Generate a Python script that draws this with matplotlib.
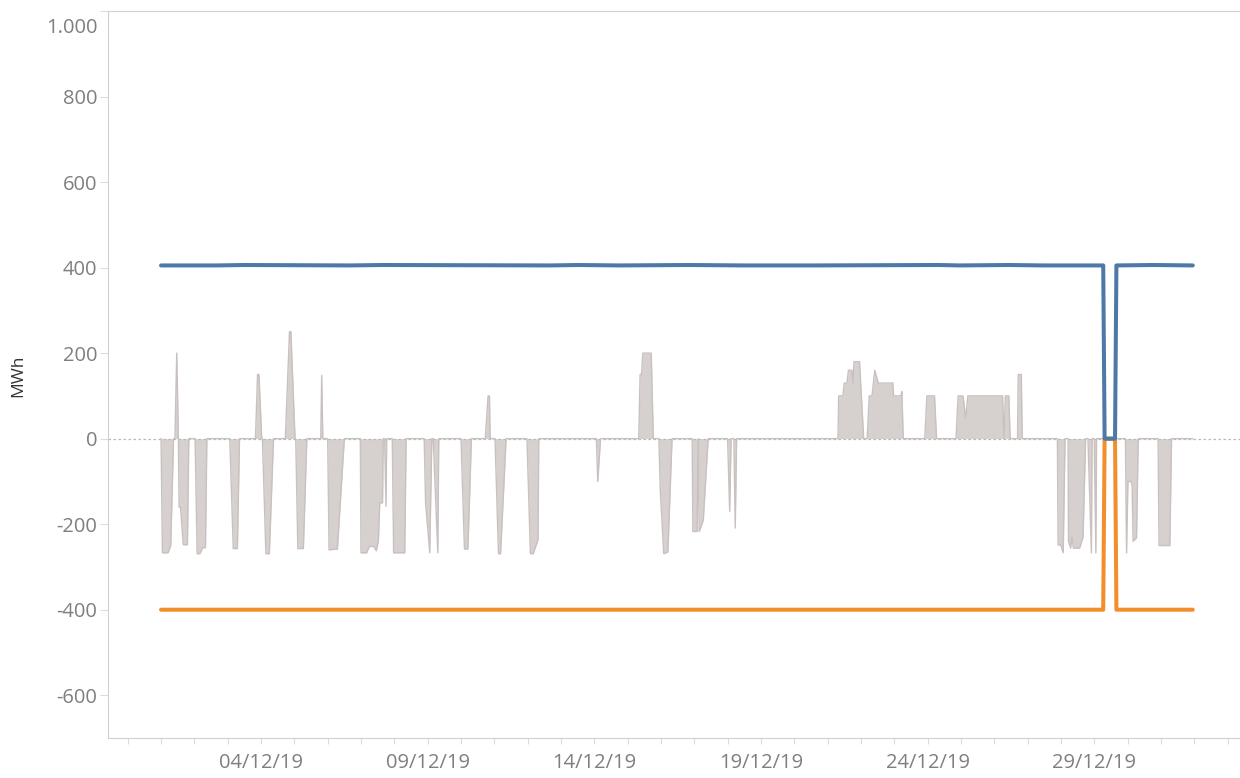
import numpy as np
import pandas as pd
import matplotlib
matplotlib.use('Agg')
import matplotlib.pyplot as plt
import matplotlib.dates as mdates
from matplotlib.ticker import FuncFormatter
from matplotlib.transforms import ScaledTranslation

# hours since 01/12/19 00:00 and net exchange (MWh), vertices of the grey area
net_hours = [0, 1, 5, 7, 9,
             10, 11.3, 12.5,
             13, 14, 16, 19, 20,
             24.5, 26, 28, 30, 32, 33,
             49.5, 52, 55, 56.5,
             68, 69.5, 70.5, 72.5,
             73, 75.5, 78, 81,
             89.5, 92.5, 93.5, 96.5,
             97, 98.5, 102.5, 105,
             115, 115.7, 116.5,
             120, 121, 127, 132,
             143.5, 144, 148, 150, 153, 155, 156.5, 157.5, 159.5, 160,
             161, 162, 162.5,
             166.5, 167.5, 175.5, 176.5,
             189.5, 190.5, 193.5, 195,
             196, 199.3, 200,
             216, 218.5, 221, 223.5,
             233.5, 235.5, 236.5, 237,
             240.5, 243, 244.5, 248.5,
             263.5, 266, 268, 271.5, 272,
             313.5, 314.5, 315.5, 316.5,
             344, 345, 346, 347, 353, 354.5,
             358.5, 359.5, 362, 365, 368,
             382.5, 383, 386, 386.8, 387.5, 389, 390.5, 394,
             408, 409.5, 410.5,
             412.5, 413.5, 414.5,
             487.5, 488, 491, 492, 494, 495, 497.5, 498.3, 499, 503, 506,
             508.5, 510, 512, 514, 516.5, 527, 527.5, 532.8, 533.5, 534.5,
             550, 551.5, 557, 558.5,
             572.5, 574, 577.5, 579.5, 581, 606, 607, 608, 610.5, 611.5,
             616.8, 617.3, 619.5, 620.2,
             645.5, 646, 648, 649.7, 651,
             653.2, 653.5, 655, 656, 657, 661.5, 664, 665.8,
             667.5, 670, 670.5,
             672, 673.2, 673.7,
             694.5, 695.3, 696.3, 698.5, 699.3, 700, 702.5, 703.7,
             718, 718.7, 726.5, 727.7,
             743]
net_mwh = [0, -267, -267, -250, 0,
           0, 200, 0,
           -160, -160, -248, -248, 0,
           0, -269, -269, -255, -255, 0,
           0, -257, -257, 0,
           0, 150, 150, 0,
           0, -269, -269, 0,
           0, 250, 250, 0,
           0, -257, -257, 0,
           0, 148, 0,
           0, -260, -258, 0,
           0, -267, -267, -252, -252, -262, -240, -150, -150, 0,
           0, -158, 0,
           0, -267, -267, 0,
           0, -150, -267, 0,
           0, -267, 0,
           0, -258, -258, 0,
           0, 100, 100, 0,
           0, -269, -269, 0,
           0, -269, -269, -236, 0,
           0, -100, -50, 0,
           0, 150, 150, 200, 200, 0,
           0, -120, -269, -265, 0,
           0, -217, -217, 0, -217, -205, -190, 0,
           0, -170, 0,
           0, -209, 0,
           0, 100, 100, 130, 130, 160, 160, 130, 180, 180, 0,
           0, 100, 100, 160, 130, 130, 100, 100, 110, 0,
           0, 100, 100, 0,
           0, 100, 100, 48, 100, 100, 0, 100, 100, 0,
           0, 150, 150, 0,
           0, -248, -250, -267, 0,
           0, -240, -256, -230, -256, -256, -230, 0,
           0, -267, 0,
           0, -267, 0,
           0, -267, -100, -100, -110, -240, -232, 0,
           0, -250, -250, 0,
           0]

# available capacity, export (blue) and import (orange)
export_hours = [0, 40, 60, 136, 160, 280, 300, 330, 380, 420, 470, 560, 575,
                610, 636, 678.5, 679.5, 687, 688, 715, 743]
export_mwh = [405, 405, 406, 405, 406, 405, 406, 405, 406, 405, 405, 406, 405,
              406, 405, 405, 0, 0, 405, 406, 405]
import_hours = [0, 678.5, 679.5, 687, 688, 743]
import_mwh = [-400, -400, 0, 0, -400, -400]

start = pd.Timestamp('2019-12-01 00:00')


def to_time(hours):
    return start + pd.to_timedelta(np.asarray(hours, dtype=float), unit='h')


label_days = ['2019-12-04', '2019-12-09', '2019-12-14', '2019-12-19', '2019-12-24', '2019-12-29']

plt.rcParams['font.family'] = ['Open Sans', 'DejaVu Sans']

fig = plt.figure(figsize=(12.4, 7.78), dpi=100)
ax = fig.add_axes([0.0871, 0.0514, 0.9129, 0.9345])

t = to_time(net_hours)
ax.fill_between(t, net_mwh, 0, color='#d6d0ce', lw=0, zorder=1)
ax.axhline(0, color='#b8b8b8', lw=0.9, ls=(0, (2, 2)), zorder=1.5)
ax.plot(t, net_mwh, color='#c9c1bf', lw=1.0, zorder=2)

ax.plot(to_time(import_hours), import_mwh, color='#f28e2b', lw=2.9,
        solid_capstyle='round', solid_joinstyle='round', zorder=3)
ax.plot(to_time(export_hours), export_mwh, color='#4e79a7', lw=2.9,
        solid_capstyle='round', solid_joinstyle='round', zorder=4)

ax.set_xlim(start - pd.Timedelta(hours=38.2), start + pd.Timedelta(hours=777))
ax.set_ylim(-700, 1000)

ax.set_yticks(np.arange(-600, 1001, 200))
ax.yaxis.set_major_formatter(FuncFormatter(lambda v, p: f"{int(v):,}".replace(',', '.')))
ax.set_xticks(pd.to_datetime(label_days))
ax.xaxis.set_major_formatter(mdates.DateFormatter('%d/%m/%y'))
ax.xaxis.set_minor_locator(mdates.DayLocator())

for side in ['left', 'top', 'bottom']:
    ax.spines[side].set_color('#d0d0d0')
    ax.spines[side].set_linewidth(0.8)
ax.spines['right'].set_visible(False)

ax.tick_params(axis='y', length=6, width=0.8, color='#dcdcdc', labelsize=14.5,
               labelcolor='#7f7f7f', pad=1.5)
ax.tick_params(axis='x', which='both', length=4, width=0.8, color='#dcdcdc')
ax.tick_params(axis='x', which='major', labelsize=14.5, labelcolor='#7f7f7f', pad=7)

# keep the topmost label inside the plot area
top_label = ax.get_yticklabels()[-1]
top_label.set_transform(top_label.get_transform() +
                        ScaledTranslation(0, -0.145, fig.dpi_scale_trans))

fig.text(0.0145, 1 - 376 / 778, 'MWh', rotation=90, va='center', ha='center',
         fontsize=12.5, color='#333333')

fig.savefig('out.png', dpi=100)
